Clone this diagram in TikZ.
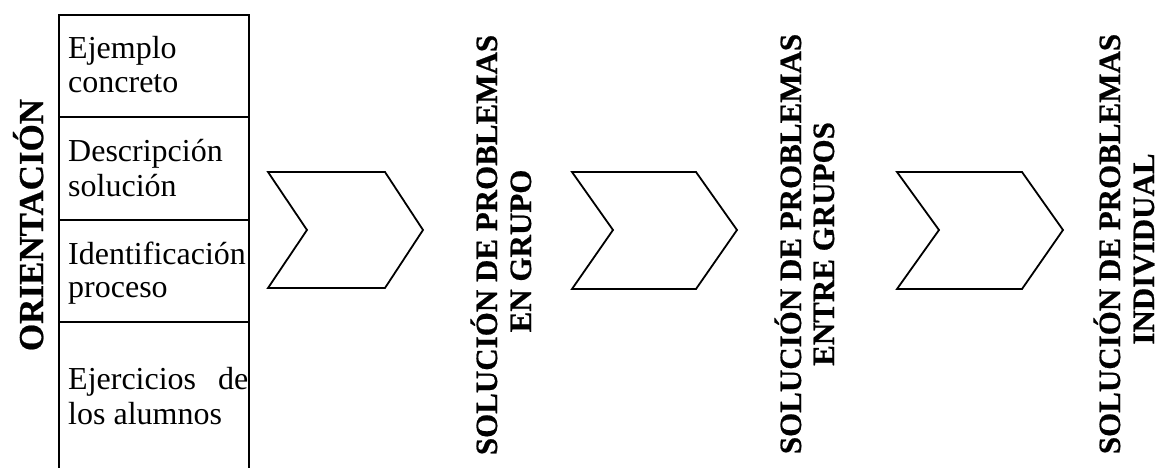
\documentclass[tikz,border=0pt]{standalone}
\usepackage{fontspec}
\setmainfont[BoldFeatures={FakeBold=0.6}]{Liberation Serif}
\begin{document}
\begin{tikzpicture}[x=1pt,y=1pt,
  celltext/.style={anchor=base west, inner sep=0pt, font=\fontsize{32}{34}\selectfont},
  phase/.style={rotate=90, anchor=base, inner sep=0pt, font=\fontsize{31}{34}\selectfont\bfseries},
  frame/.style={line width=2.5pt},
  chevron/.style={draw, line width=1.8pt, line join=miter}]
\useasboundingbox (0,0) rectangle (1160,468);
\clip (0,0) rectangle (1160,468);

% orientation table (open at the bottom)
\coordinate (tl) at (59,453);
\coordinate (tr) at (249,453);
\coordinate (bl) at (59,-10);
\coordinate (br) at (249,-10);
\draw[frame] (bl) -- (tl) -- (tr) -- (br);
\draw[frame] (59,351) -- (249,351);
\draw[frame] (59,248) -- (249,248);
\draw[frame] (59,146) -- (249,146);

\node[celltext] (c1a) at (68,409) {Ejemplo};
\node[celltext] (c1b) at (68,375) {concreto};
\node[celltext] (c2a) at (68,306) {Descripción};
\node[celltext] (c2b) at (68,271) {solución};
\node[celltext] (c3a) at (68,203) {Identificación};
\node[celltext] (c3b) at (68,170) {proceso};
\node[celltext] (c4a) at (68,78) {\makebox[180pt][s]{Ejercicios de}};
\node[celltext] (c4b) at (68,43) {los alumnos};

\node[phase, font=\fontsize{35}{38}\selectfont\bfseries] (orient) at (43,243) {ORIENTACIÓN};

% chevrons
\draw[chevron] (268,296) -- (385,296) -- (423,238) -- (385,180) -- (268,180) -- (307,238) -- cycle;
\draw[chevron] (572,296) -- (696,296) -- (737,238) -- (696,179) -- (572,179) -- (613,238) -- cycle;
\draw[chevron] (897,296) -- (1022,296) -- (1063,238) -- (1022,179) -- (897,179) -- (939,238) -- cycle;

% phase labels
\node[phase] (p1a) at (497,223) {SOLUCIÓN DE PROBLEMAS};
\node[phase] (p1b) at (531,217) {EN GRUPO};
\node[phase] (p2a) at (801,224) {SOLUCIÓN DE PROBLEMAS};
\node[phase] (p2b) at (834,224) {ENTRE GRUPOS};
\node[phase] (p3a) at (1120,224) {SOLUCIÓN DE PROBLEMAS};
\node[phase] (p3b) at (1154,219) {INDIVIDUAL};
\end{tikzpicture}
\end{document}
